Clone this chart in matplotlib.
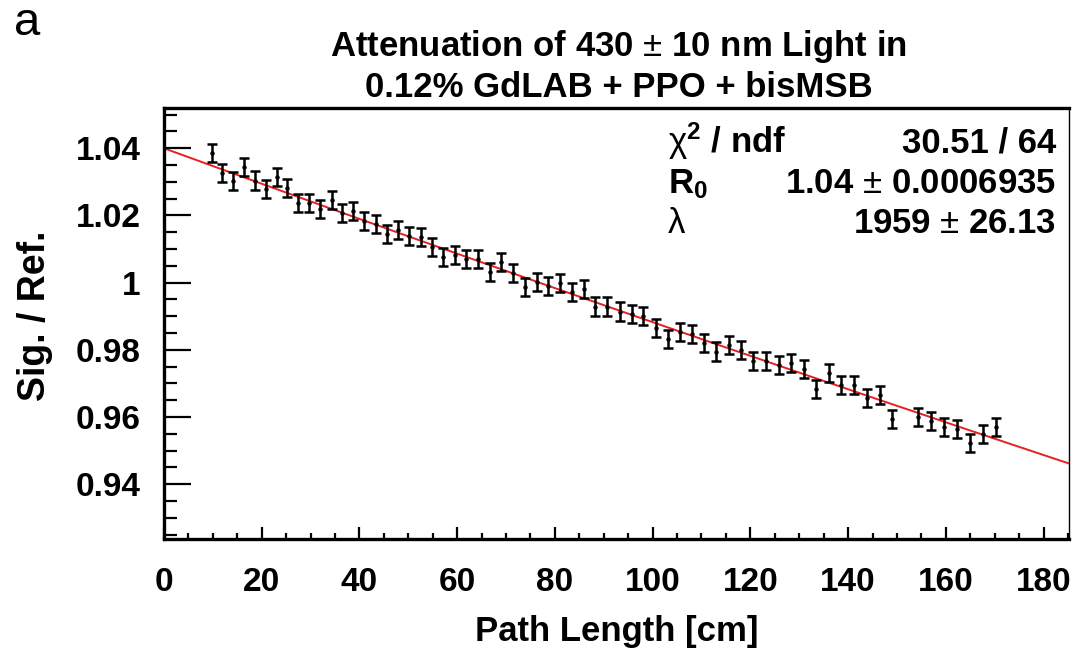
import numpy as np
import matplotlib
matplotlib.use("Agg")
import matplotlib.pyplot as plt
from matplotlib.ticker import MultipleLocator, FormatStrFormatter

plt.rcParams['font.family'] = ['Liberation Sans', 'DejaVu Sans']
plt.rcParams['mathtext.fontset'] = 'custom'
plt.rcParams['mathtext.rm'] = 'Liberation Sans'
plt.rcParams['mathtext.bf'] = 'Liberation Sans:bold'
plt.rcParams['mathtext.it'] = 'Liberation Sans:italic'

path_cm = [9.8, 11.9, 14.2, 16.4, 18.6, 20.8, 23.1, 25.2, 27.5, 29.7,
           32.0, 34.3, 36.5, 38.7, 41.0, 43.3, 45.6, 47.9, 50.2, 52.5,
           54.8, 57.2, 59.6, 61.9, 64.3, 66.7, 69.0, 71.4, 73.9, 76.3,
           78.6, 81.0, 83.5, 85.9, 88.3, 90.7, 93.3, 95.7, 98.1, 100.6,
           103.1, 105.5, 108.0, 110.6, 113.0, 115.6, 118.1, 120.6, 123.2, 125.8,
           128.3, 130.9, 133.5, 136.0, 138.6, 141.2, 143.8, 146.5, 149.0, 154.4,
           157.0, 159.6, 162.2, 164.9, 167.6, 170.3]
ratio = [1.0385, 1.0326, 1.0303, 1.0345, 1.0304, 1.0280, 1.0315, 1.0283, 1.0236, 1.0236,
         1.0219, 1.0246, 1.0207, 1.0214, 1.0184, 1.0174, 1.0145, 1.0157, 1.0140, 1.0135,
         1.0107, 1.0077, 1.0082, 1.0071, 1.0070, 1.0033, 1.0061, 1.0030, 0.9988, 1.0003,
         0.9990, 0.9998, 0.9973, 0.9980, 0.9929, 0.9929, 0.9914, 0.9907, 0.9901, 0.9866,
         0.9832, 0.9854, 0.9846, 0.9820, 0.9795, 0.9815, 0.9800, 0.9768, 0.9768, 0.9755,
         0.9762, 0.9742, 0.9683, 0.9730, 0.9695, 0.9695, 0.9656, 0.9666, 0.9593, 0.9601,
         0.9588, 0.9571, 0.9564, 0.9524, 0.9550, 0.9570]
ratio_err = 0.0027

# Fit result
R0 = 1.04
R0_err = 0.0006935
lam = 1959
lam_err = 26.13
chi2 = 30.51
ndf = 64

fig = plt.figure(figsize=(10.74, 6.52), dpi=100)
ax = fig.add_axes([0.1527, 0.1733, 0.8426, 0.6611])

xfit = np.linspace(0, 185.2, 300)
ax.plot(xfit, R0 * np.exp(-xfit / lam), color='#e62020', lw=1.4, zorder=1)

ax.errorbar(path_cm, ratio, yerr=ratio_err, fmt='o', color='black',
            markersize=2.2, elinewidth=1.8, capsize=3.4, capthick=1.8, zorder=2)

ax.set_xlim(0, 185.2)
ax.set_ylim(0.9237, 1.052)

ax.xaxis.set_major_locator(MultipleLocator(20))
ax.xaxis.set_minor_locator(MultipleLocator(5))
ax.yaxis.set_major_locator(MultipleLocator(0.02))
ax.yaxis.set_minor_locator(MultipleLocator(0.005))
ax.yaxis.set_major_formatter(FormatStrFormatter('%g'))

ax.tick_params(axis='both', which='both', direction='in',
               top=False, right=False, width=1.6, labelsize=24)
ax.tick_params(axis='y', which='major', length=19.5, pad=17)
ax.tick_params(axis='y', which='minor', length=9)
ax.tick_params(axis='x', which='major', length=8.6, pad=20)
ax.tick_params(axis='x', which='minor', length=4.3)
for lab in ax.get_xticklabels() + ax.get_yticklabels():
    lab.set_fontweight('bold')

for side in ['left', 'bottom', 'top']:
    ax.spines[side].set_linewidth(2.4)
ax.spines['right'].set_linewidth(1.0)

# Stats box
txt = dict(transform=ax.transAxes, fontsize=25, va='baseline')
ax.text(0.557, 0.8956, r'$\mathrm{\chi}^{\mathbf{2}}$ / ndf', fontweight='bold', **txt)
ax.text(0.9856, 0.8956, '{0:.2f} / {1}'.format(chi2, ndf), ha='right',
        fontweight='bold', **txt)
ax.text(0.557, 0.8028, r'R$_{\mathbf{0}}$', fontweight='bold', **txt)
ax.text(0.9856, 0.8028, '{0:.2f} $\\pm$ {1:.7f}'.format(R0, R0_err), ha='right',
        fontweight='bold', **txt)
ax.text(0.557, 0.710, 'λ', **txt)
ax.text(0.9856, 0.710, '{0} $\\pm$ {1:.2f}'.format(lam, lam_err), ha='right',
        fontweight='bold', **txt)

fig.text(0.576, 1 - 56 / 652, 'Attenuation of 430 $\\pm$ 10 nm Light in',
         ha='center', va='baseline', fontsize=25, fontweight='bold')
fig.text(0.576, 1 - 97 / 652, '0.12% GdLAB + PPO + bisMSB',
         ha='center', va='baseline', fontsize=25, fontweight='bold')

fig.text(0.5745, 1 - 641 / 652, 'Path Length [cm]', ha='center', va='baseline',
         fontsize=25, fontweight='bold')
fig.text(35 / 1074, 1 - 316 / 652, 'Sig. / Ref.', rotation=90, ha='center',
         va='center', fontsize=27, fontweight='bold')

fig.text(0.013, 1 - 35 / 652, 'a', fontsize=34, va='baseline')

plt.savefig("out.png", dpi=100)
